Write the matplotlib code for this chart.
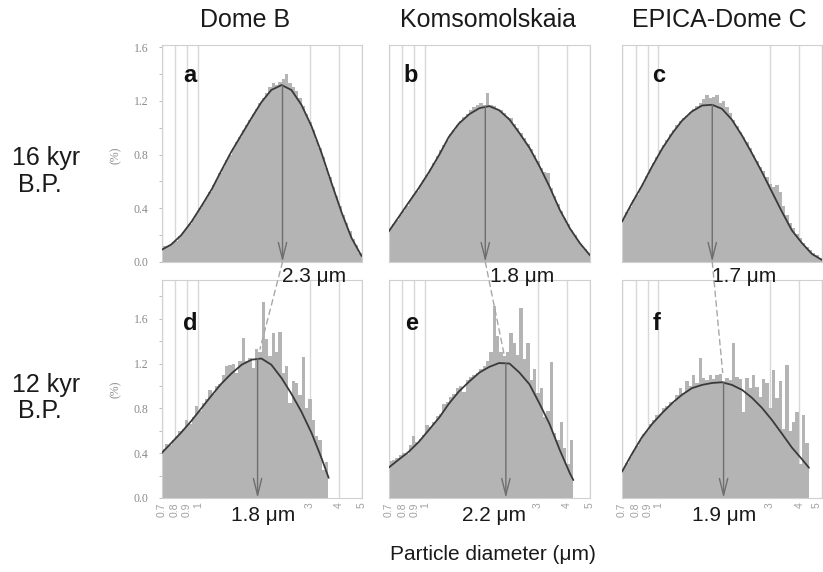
import numpy as np
import matplotlib
matplotlib.use("Agg")
import matplotlib.pyplot as plt
from matplotlib.patches import ConnectionPatch
from matplotlib.ticker import FixedLocator, NullLocator, MultipleLocator

# ---------------- data ----------------
sites = ["Dome B", "Komsomolskaia", "EPICA-Dome C"]
row_ages = ["16 kyr", "12 kyr"]
row_bp = "B.P."
panel_letters = ["a", "b", "c", "d", "e", "f"]
xticks = [0.7, 0.8, 0.9, 1, 3, 4, 5]
xtick_labels = ["0.7", "0.8", "0.9", "1", "3", "4", "5"]
yticks = [0.0, 0.4, 0.8, 1.2, 1.6]
ytick_labels = ["0.0", "0.4", "0.8", "1.2", "1.6"]
xlabel = "Particle diameter (\u03bcm)"
ylabel = "(%)"

# 60 logarithmically spaced diameter channels (um)
bin_edges = np.geomspace(0.7, 5.0, 61)

# histogram heights (%) per channel
hist_a = [0.12, 0.12, 0.13, 0.15, 0.16, 0.19, 0.22, 0.25, 0.28, 0.32,
          0.36, 0.40, 0.44, 0.48, 0.52, 0.57, 0.61, 0.66, 0.71, 0.76,
          0.80, 0.85, 0.89, 0.93, 0.98, 1.02, 1.06, 1.10, 1.14, 1.18,
          1.22, 1.26, 1.30, 1.33, 1.32, 1.34, 1.36, 1.40, 1.33, 1.30,
          1.27, 1.22, 1.16, 1.10, 1.04, 0.98, 0.91, 0.85, 0.78, 0.70,
          0.63, 0.56, 0.49, 0.42, 0.35, 0.29, 0.23, 0.17, 0.13, 0.07]
hist_b = [0.25, 0.28, 0.31, 0.35, 0.38, 0.42, 0.46, 0.50, 0.53, 0.57,
          0.61, 0.65, 0.69, 0.74, 0.79, 0.83, 0.87, 0.91, 0.95, 0.98,
          1.02, 1.05, 1.08, 1.10, 1.13, 1.15, 1.17, 1.18, 1.17, 1.26,
          1.17, 1.16, 1.14, 1.13, 1.11, 1.08, 1.07, 1.03, 1.00, 0.96,
          0.92, 0.88, 0.84, 0.80, 0.75, 0.70, 0.67, 0.66, 0.55, 0.49,
          0.43, 0.38, 0.33, 0.28, 0.24, 0.20, 0.16, 0.13, 0.10, 0.07]
hist_c = [0.32, 0.37, 0.41, 0.46, 0.50, 0.55, 0.59, 0.64, 0.69, 0.74,
          0.78, 0.83, 0.87, 0.91, 0.95, 0.98, 1.02, 1.05, 1.07, 1.09,
          1.12, 1.14, 1.16, 1.18, 1.21, 1.24, 1.22, 1.23, 1.24, 1.18,
          1.20, 1.15, 1.11, 1.06, 1.01, 0.97, 0.93, 0.89, 0.85, 0.80,
          0.75, 0.71, 0.68, 0.63, 0.58, 0.56, 0.57, 0.52, 0.42, 0.35,
          0.29, 0.25, 0.21, 0.18, 0.14, 0.11, 0.09, 0.07, 0.05, 0.03]
hist_d = [0.44, 0.48, 0.47, 0.52, 0.55, 0.60, 0.62, 0.70, 0.66, 0.72,
          0.82, 0.78, 0.85, 0.88, 0.96, 0.93, 1.00, 1.02, 1.10, 1.18,
          1.19, 1.20, 1.12, 1.22, 1.43, 1.22, 1.25, 1.16, 1.33, 1.30,
          1.75, 1.42, 1.27, 1.47, 1.30, 1.48, 1.12, 1.18, 0.85, 1.04,
          1.03, 0.92, 1.26, 0.80, 0.88, 0.70, 0.55, 0.52, 0.25, 0.32]
hist_e = [0.33, 0.34, 0.36, 0.38, 0.40, 0.39, 0.47, 0.55, 0.50, 0.53,
          0.56, 0.65, 0.63, 0.68, 0.73, 0.75, 0.84, 0.86, 0.90, 0.93,
          0.98, 1.00, 0.95, 1.05, 1.08, 1.10, 1.12, 1.15, 1.18, 1.22,
          1.30, 1.71, 1.45, 1.30, 1.27, 1.30, 1.47, 1.38, 1.28, 1.70,
          1.24, 1.38, 1.05, 1.15, 0.94, 0.98, 0.72, 0.78, 1.21, 0.58,
          0.52, 0.68, 0.45, 0.30, 0.52]
hist_f = [0.27, 0.31, 0.37, 0.42, 0.46, 0.52, 0.57, 0.60, 0.66, 0.70,
          0.74, 0.75, 0.80, 0.82, 0.86, 0.85, 0.92, 0.98, 0.94, 1.04,
          1.00, 1.10, 1.03, 1.25, 1.07, 1.05, 1.10, 1.06, 1.10, 1.11,
          1.04, 1.07, 1.05, 1.38, 1.08, 1.06, 0.77, 1.07, 0.98, 1.10,
          0.99, 0.90, 1.06, 1.03, 0.80, 1.14, 0.89, 1.04, 0.62, 1.19,
          0.60, 0.68, 0.77, 0.30, 0.74, 0.49]

# fitted log-normal curves, read at these diameters (um)
curve_x_top = [0.70, 0.77, 0.85, 0.94, 1.04, 1.15, 1.26, 1.39, 1.54, 1.70,
               1.87, 2.06, 2.28, 2.51, 2.77, 3.06, 3.37, 3.72, 4.11, 4.53, 5.00]
curve_a = [0.09, 0.13, 0.20, 0.30, 0.42, 0.545, 0.68, 0.82, 0.95, 1.075,
           1.19, 1.28, 1.317, 1.28, 1.17, 1.01, 0.815, 0.59, 0.37, 0.18, 0.045]
curve_b = [0.225, 0.33, 0.44, 0.55, 0.67, 0.80, 0.93, 1.03, 1.10, 1.145,
           1.16, 1.13, 1.06, 0.96, 0.85, 0.71, 0.56, 0.39, 0.25, 0.14, 0.05]
curve_c = [0.30, 0.435, 0.565, 0.71, 0.845, 0.96, 1.05, 1.12, 1.165, 1.17,
           1.14, 1.06, 0.94, 0.81, 0.67, 0.52, 0.375, 0.235, 0.14, 0.06, 0.015]
curve_x_d = [0.70, 0.77, 0.85, 0.94, 1.04, 1.15, 1.26, 1.39, 1.54, 1.70,
             1.87, 2.06, 2.28, 2.51, 2.77, 3.06, 3.37, 3.62]
curve_d = [0.40, 0.49, 0.585, 0.69, 0.805, 0.92, 1.02, 1.11, 1.19, 1.235,
           1.245, 1.19, 1.07, 0.93, 0.77, 0.58, 0.36, 0.18]
curve_x_e = [0.70, 0.77, 0.85, 0.94, 1.04, 1.15, 1.26, 1.39, 1.54, 1.70,
             1.87, 2.06, 2.28, 2.51, 2.77, 3.06, 3.37, 3.72, 4.11, 4.25]
curve_e = [0.27, 0.34, 0.41, 0.50, 0.61, 0.72, 0.84, 0.95, 1.04, 1.12,
           1.17, 1.205, 1.20, 1.12, 1.015, 0.84, 0.66, 0.43, 0.22, 0.16]
curve_x_f = [0.70, 0.77, 0.85, 0.94, 1.04, 1.15, 1.26, 1.39, 1.54, 1.70,
             1.87, 2.06, 2.28, 2.51, 2.77, 3.06, 3.37, 3.72, 4.11, 4.40]
curve_f = [0.235, 0.39, 0.54, 0.66, 0.76, 0.85, 0.92, 0.98, 1.01, 1.027,
           1.033, 1.01, 0.965, 0.895, 0.805, 0.695, 0.575, 0.45, 0.345, 0.27]

# modal diameters (um)
modes_16kyr = [2.3, 1.8, 1.7]
modes_12kyr = [1.8, 2.2, 1.9]

hists = [[hist_a, hist_b, hist_c], [hist_d, hist_e, hist_f]]
curves = [[(curve_x_top, curve_a), (curve_x_top, curve_b), (curve_x_top, curve_c)],
          [(curve_x_d, curve_d), (curve_x_e, curve_e), (curve_x_f, curve_f)]]
modes = [modes_16kyr, modes_12kyr]

# ---------------- layout ----------------
W, H = 823, 572
fig = plt.figure(figsize=(W / 100, H / 100), dpi=100)
plt.rcParams["font.family"] = ["Liberation Sans", "DejaVu Sans"]

def fx(px):
    return px / W

def fy(py):
    return 1 - py / H

col_px = [(161.5, 200.0), (388.5, 201.5), (622.0, 200.0)]
row_px = [(45, 262), (280, 498)]
ytop = [1.615, 1.946]

BAR = "#b4b4b4"
CURVE = "#3a3a3a"
ARROW = "#6e6e6e"
GRID = "#d8d8d8"
TICKC = "#8a8a8a"

axes = [[None] * 3 for _ in range(2)]
for r in range(2):
    for c in range(3):
        x0, w = col_px[c]
        top, bot = row_px[r]
        ax = fig.add_axes([fx(x0), fy(bot), w / W, (bot - top) / H])
        axes[r][c] = ax
        ax.set_xscale("log")
        ax.set_xlim(0.7, 5.0)
        ax.set_ylim(0, ytop[r])
        ax.xaxis.set_major_locator(FixedLocator(xticks))
        ax.xaxis.set_minor_locator(NullLocator())
        ax.set_xticks(xticks)
        ax.set_xticklabels(xtick_labels)
        ax.grid(axis="x", color=GRID, lw=1.0)
        ax.set_axisbelow(True)
        for s in ax.spines.values():
            s.set_color("#d0d0d0")
            s.set_linewidth(0.8)

        h = hists[r][c]
        ax.stairs(h, bin_edges[:len(h) + 1], fill=True, color=BAR, lw=0, zorder=2)
        cx, cy = curves[r][c]
        ax.plot(cx, cy, color=CURVE, lw=1.3, zorder=3, solid_capstyle="round")
        m = modes[r][c]
        ax.annotate("", xy=(m, 0), xytext=(m, max(cy)),
                    arrowprops=dict(arrowstyle="->,head_length=1.2,head_width=0.3",
                                    color=ARROW, lw=1.0, shrinkA=0, shrinkB=0),
                    zorder=4)

        if r == 0:
            ax.tick_params(axis="x", which="both", length=0, labelbottom=False)
        else:
            ax.tick_params(axis="x", which="both", length=0, pad=3,
                           labelrotation=90, labelsize=7.5, labelcolor="#a0a0a0")
            if c == 2:
                ax.get_xticklabels()[-1].set_horizontalalignment("right")
        if c == 0:
            ax.set_yticks(yticks)
            ax.set_yticklabels(ytick_labels, fontfamily="Liberation Serif")
            ax.yaxis.set_minor_locator(MultipleLocator(0.2))
            ax.tick_params(axis="y", which="both", direction="out", length=2.5,
                           width=0.7, color="#bbbbbb", labelsize=8.5,
                           labelcolor=TICKC, pad=7)
        else:
            ax.set_yticks([])
            ax.tick_params(axis="y", which="both", left=False, labelleft=False)

# dashed links between modal values of the two periods
for c in range(3):
    cy = curves[1][c][1]
    con = ConnectionPatch(xyA=(modes[0][c], 0), coordsA=axes[0][c].transData,
                          xyB=(modes[1][c], max(cy)), coordsB=axes[1][c].transData,
                          color="#a8a8a8", lw=1.0, linestyle=(0, (4, 3)),
                          shrinkA=0, shrinkB=7, zorder=10)
    fig.add_artist(con)

# mode labels
top_label_px = [(282, 282), (490, 282), (712, 282)]
bot_label_px = [(263, 521), (494, 521), (724, 521)]
for c in range(3):
    fig.text(fx(top_label_px[c][0]), fy(top_label_px[c][1]),
             f"{modes[0][c]} \u03bcm", ha="left", va="baseline",
             fontsize=15, color="#1a1a1a")
    fig.text(fx(bot_label_px[c][0]), fy(bot_label_px[c][1]),
             f"{modes[1][c]} \u03bcm", ha="center", va="baseline",
             fontsize=15, color="#1a1a1a")

# panel letters
letter_px = [(183, 82), (403, 82), (652, 82), (183, 330), (405, 330), (653, 330)]
for lt, (px, py) in zip(panel_letters, letter_px):
    fig.text(fx(px), fy(py), lt, ha="left", va="baseline", fontsize=17,
             fontweight="bold", color="#111111")

# column titles
title_px = [245, 488.5, 719.5]
for name, px in zip(sites, title_px):
    fig.text(fx(px), fy(27), name, ha="center", va="baseline", fontsize=18,
             color="#1a1a1a")

# row labels
row_base = [(165, 192), (392, 418)]
for age, (b1, b2) in zip(row_ages, row_base):
    fig.text(fx(12), fy(b1), age, ha="left", va="baseline", fontsize=18,
             color="#1a1a1a")
    fig.text(fx(18), fy(b2), row_bp, ha="left", va="baseline", fontsize=18,
             color="#1a1a1a")

# y axis label (%)
for yc in [155, 389]:
    fig.text(fx(116), fy(yc), ylabel, ha="center", va="center", rotation=90,
             fontsize=8.5, color=TICKC, fontfamily="Liberation Serif")

# x axis label
fig.text(fx(493), fy(560), xlabel, ha="center", va="baseline", fontsize=15,
         color="#1a1a1a")

fig.savefig("out.png", dpi=100)
